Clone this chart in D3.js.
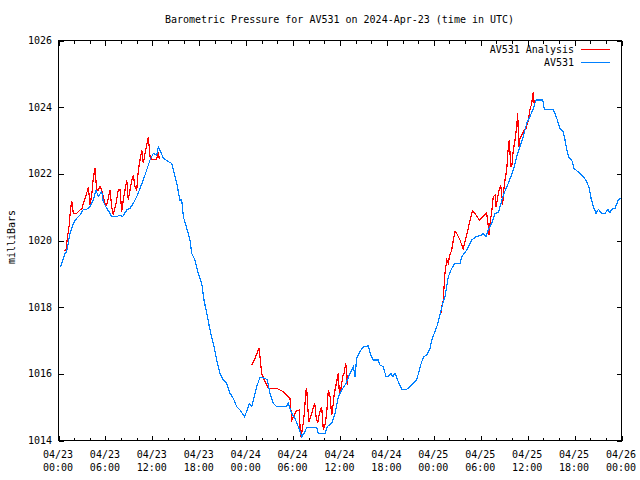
<!DOCTYPE html>
<html><head><meta charset="utf-8">
<script src="https://cdn.jsdelivr.net/npm/d3@7"></script>
<style>
html,body{margin:0;padding:0;background:#fff;}
text{font-family:"DejaVu Sans Mono",monospace;font-size:10px;fill:#000;}
</style></head>
<body><svg id="c" width="640" height="480"></svg>
<script>
// Hours since 2024-04-23 00:00 UTC
const obsHours = [0.35,0.9,1.11,1.53,1.96,2.39,2.81,3.24,3.67,4.09,4.51,4.86,5.15,5.59,5.79,6.23,6.65,6.87,7.51,7.93,8.27,8.79,9.21,9.63,10.07,10.49,10.91,11.34,11.77,12.19,12.62,12.83,13.13,13.47,14.11,14.54,14.75,15.18,15.6,15.82,16.03,16.46,16.88,17.1,17.52,17.94,18.38,18.67,19.02,19.44,19.86,20.3,20.72,21.14,21.58,22.0,22.42,22.85,23.28,23.83,24.13,24.47,24.77,24.98,25.41,25.83,26.47,26.77,27.11,27.54,27.97,29.16,29.45,29.89,30.31,30.73,31.17,31.59,31.81,33.09,33.29,34.15,34.44,35.0,35.43,35.85,36.28,36.83,37.34,37.77,37.98,38.2,38.62,39.05,39.68,39.99,40.32,40.96,41.18,41.6,41.95,42.24,42.55,42.81,43.1,43.52,43.96,44.6,45.02,45.44,45.87,46.21,46.51,46.81,47.15,47.58,47.79,48.21,48.51,48.85,49.28,49.49,49.92,50.35,50.77,51.41,51.63,52.27,52.91,53.46,54.19,54.39,54.74,55.03,55.47,55.89,56.31,56.53,56.95,57.59,58.23,58.66,59.09,59.51,59.94,60.36,60.79,61.13,61.99,62.19,63.27,63.56,63.86,64.2,64.62,64.84,65.06,65.39,65.7,65.99,66.34,66.76,67.18,67.62,67.95,68.17,68.46,68.81,69.1,69.54,69.96,70.3,70.6,70.81,71.23,71.66,71.96];
const obsValues = [1019.2,1019.6,1019.65,1020.2,1020.5,1020.65,1020.75,1020.92,1020.92,1021.0,1021.2,1021.5,1021.3,1021.45,1021.15,1020.95,1020.8,1020.7,1020.7,1020.75,1020.7,1020.9,1020.95,1021.1,1021.3,1021.55,1021.8,1022.1,1022.4,1022.6,1022.55,1022.8,1022.65,1022.45,1022.35,1022.3,1022.1,1021.7,1021.2,1021.2,1020.7,1020.35,1020.0,1019.6,1019.4,1019.0,1018.7,1018.2,1017.8,1017.3,1016.9,1016.4,1016.0,1015.8,1015.7,1015.4,1015.25,1015.0,1014.9,1014.7,1014.85,1015.1,1015.0,1015.2,1015.6,1015.88,1015.85,1015.8,1015.4,1015.1,1015.0,1015.0,1015.1,1014.8,1014.65,1014.4,1014.1,1014.25,1014.38,1014.38,1014.2,1014.2,1014.4,1014.5,1014.8,1015.3,1015.5,1015.7,1016.0,1016.2,1015.9,1016.45,1016.65,1016.8,1016.82,1016.55,1016.4,1016.4,1016.25,1016.2,1015.9,1015.9,1016.0,1015.9,1016.0,1015.75,1015.52,1015.52,1015.6,1015.7,1015.8,1016.1,1016.35,1016.5,1016.55,1016.75,1017.0,1017.25,1017.45,1017.75,1018.15,1018.3,1018.9,1019.15,1019.3,1019.3,1019.5,1019.7,1020.0,1020.1,1020.15,1020.2,1020.1,1020.3,1020.5,1020.8,1020.82,1021.0,1021.35,1021.7,1022.1,1022.5,1022.8,1023.1,1023.5,1023.7,1023.95,1024.2,1024.2,1023.92,1023.92,1023.8,1023.6,1023.35,1023.25,1023.0,1022.7,1022.45,1022.4,1022.15,1022.08,1022.0,1021.9,1021.75,1021.55,1021.25,1021.0,1020.8,1020.92,1020.8,1020.8,1020.92,1020.82,1020.92,1020.95,1021.2,1021.25];

// Analysis series (null = gap between analysis windows)
const anaHours = [0.77,1.02,1.19,1.41,1.53,1.75,1.96,2.39,2.81,3.03,3.24,3.67,3.88,4.09,4.31,4.51,4.73,4.95,5.15,5.37,5.59,6.01,6.23,6.65,6.87,7.07,7.42,7.71,7.93,8.15,8.35,8.57,8.79,8.99,9.21,9.43,9.63,9.85,10.07,10.27,10.49,10.71,10.91,11.13,11.34,11.55,11.77,11.98,12.62,12.83,12.96,
  null,
  24.77,25.19,25.71,25.92,26.05,26.47,26.9,27.97,28.39,28.81,29.25,29.67,29.89,30.1,30.31,30.53,30.86,30.95,31.08,31.3,31.5,31.72,31.81,31.93,32.1,32.32,32.57,32.83,33.0,33.21,33.42,33.72,33.93,34.15,34.36,34.57,34.79,35.0,35.13,35.34,35.64,35.85,35.98,36.19,36.41,36.58,36.79,36.92,37.0,
  null,
  48.94,49.07,49.28,49.37,49.49,49.71,49.92,50.05,50.35,50.56,50.77,50.99,51.41,51.63,51.84,51.93,52.27,52.7,52.99,53.46,53.88,54.39,54.82,55.03,55.12,55.25,55.47,55.67,55.89,56.02,56.18,56.4,56.62,56.78,56.87,56.95,57.17,57.38,57.59,57.72,57.9,58.03,58.23,58.45,58.66,58.79,58.92,59.09,59.3,59.51,59.86,60.15,60.36,60.58,60.79,60.92];
const anaValues = [1019.68,1019.7,1020.05,1020.4,1020.75,1021.18,1020.8,1020.8,1020.9,1020.92,1021.1,1021.4,1021.6,1021.05,1021.35,1021.85,1022.15,1021.5,1021.5,1021.6,1021.5,1021.1,1021.05,1021.5,1021.0,1020.75,1021.1,1021.5,1021.5,1020.85,1021.2,1021.5,1021.8,1021.2,1021.5,1021.8,1021.95,1021.6,1021.5,1022.1,1022.4,1022.7,1022.3,1022.6,1022.85,1023.1,1022.5,1022.42,1022.42,1022.65,1022.42,
  null,
  1016.25,1016.45,1016.75,1016.3,1016.0,1015.75,1015.55,1015.55,1015.5,1015.45,1015.35,1015.25,1014.6,1014.7,1014.8,1014.88,1014.9,1014.4,1014.1,1014.4,1014.8,1015.5,1015.55,1015.0,1014.55,1014.7,1014.9,1015.1,1014.7,1014.5,1014.8,1015.0,1014.3,1014.45,1014.8,1015.5,1015.3,1014.75,1014.95,1015.4,1015.75,1016.0,1015.4,1015.55,1015.9,1016.0,1016.3,1016.1,1015.65,
  null,
  1017.75,1018.0,1018.2,1018.6,1019.0,1019.4,1019.3,1019.5,1019.7,1020.0,1020.25,1020.2,1020.0,1019.85,1019.7,1019.85,1020.15,1020.6,1020.88,1020.75,1020.6,1020.72,1020.82,1020.4,1020.15,1020.5,1020.85,1021.3,1021.35,1021.0,1021.2,1021.5,1021.65,1021.3,1021.05,1021.4,1021.8,1022.1,1022.8,1023.0,1022.2,1022.2,1022.7,1023.0,1023.4,1023.8,1022.8,1023.05,1023.15,1023.25,1023.35,1023.6,1023.9,1024.1,1024.45,1024.0];

const yTicks = [1014,1016,1018,1020,1022,1024,1026];
const titleText = "Barometric Pressure for AV531 on 2024-Apr-23 (time in UTC)";
const yLabel = "milliBars";
const seriesNames = ["AV531 Analysis","AV531"];
const seriesColors = ["#ff0000","#0080ff"];

const base = Date.UTC(2024,3,23,0,0);
const toDate = h => new Date(base + h*3600000);

const L=58, R=621, T=40, B=440;
const svg = d3.select("#c");
const x = d3.scaleUtc().domain([toDate(0), toDate(72)]).range([L, R]);
const y = d3.scaleLinear().domain([1014,1026]).range([B, T]);

// frame
svg.append("rect").attr("x",L+0.5).attr("y",T+0.5).attr("width",R-L).attr("height",B-T)
  .attr("fill","none").attr("stroke","#000").attr("stroke-width",1).attr("shape-rendering","crispEdges");

function styleAxis(g){
  g.select(".domain").remove();
  g.selectAll("line").attr("stroke","#000").attr("shape-rendering","crispEdges");
  g.selectAll("text").remove();
}
const minorT = d3.utcHour.every(2), majorT = d3.utcHour.every(6);
svg.append("g").attr("transform",`translate(0.5,${B+0.5})`).call(d3.axisBottom(x).ticks(minorT).tickSize(-3).tickFormat("")).call(styleAxis);
svg.append("g").attr("transform",`translate(0.5,${B+0.5})`).call(d3.axisBottom(x).ticks(majorT).tickSize(-5).tickFormat("")).call(styleAxis);
svg.append("g").attr("transform",`translate(0.5,${T+0.5})`).call(d3.axisTop(x).ticks(minorT).tickSize(-3).tickFormat("")).call(styleAxis);
svg.append("g").attr("transform",`translate(0.5,${T+0.5})`).call(d3.axisTop(x).ticks(majorT).tickSize(-5).tickFormat("")).call(styleAxis);
svg.append("g").attr("transform",`translate(${L+0.5},0.5)`).call(d3.axisLeft(y).tickValues(yTicks).tickSize(-5).tickFormat("")).call(styleAxis);
svg.append("g").attr("transform",`translate(${R+0.5},0.5)`).call(d3.axisRight(y).tickValues(yTicks).tickSize(-5).tickFormat("")).call(styleAxis);

// x labels
const fmtD = d3.utcFormat("%m/%d"), fmtH = d3.utcFormat("%H:%M");
const xt = x.ticks(majorT);
const xl = svg.append("g");
xt.forEach(d=>{
  const t = xl.append("text").attr("text-anchor","middle");
  t.append("tspan").attr("x",x(d)).attr("y",458).text(fmtD(d));
  t.append("tspan").attr("x",x(d)).attr("y",471).text(fmtH(d));
});
// y labels
svg.append("g").selectAll("text").data(yTicks).join("text")
  .attr("x",52).attr("y",d=>y(d)+4).attr("text-anchor","end").text(d=>d);

// title
svg.append("text").attr("x",(L+R)/2).attr("y",23).attr("text-anchor","middle").text(titleText);
svg.append("text").attr("transform","translate(15,237) rotate(-90)").attr("text-anchor","middle").text(yLabel);

// lines
const obs = obsHours.map((h,i)=>({t:toDate(h), v:obsValues[i]}));
const ana = anaHours.map((h,i)=>({t:h==null?null:toDate(h), v:anaValues[i]}));
const line = d3.line().defined(d=>d.t!=null && d.v!=null).x(d=>x(d.t)).y(d=>y(d.v));
svg.append("path").datum(ana).attr("d",line).attr("fill","none").attr("stroke",seriesColors[0]).attr("stroke-width",1.2).attr("shape-rendering","crispEdges");
svg.append("path").datum(obs).attr("d",line).attr("fill","none").attr("stroke",seriesColors[1]).attr("stroke-width",1.2).attr("shape-rendering","crispEdges");

// legend
const lg = svg.append("g");
seriesNames.forEach((n,i)=>{
  const yy = 49 + i*13;
  lg.append("text").attr("x",574).attr("y",yy+3.5).attr("text-anchor","end").text(n);
  lg.append("line").attr("x1",581).attr("x2",610).attr("y1",yy+0.5).attr("y2",yy+0.5)
    .attr("stroke",seriesColors[i]).attr("stroke-width",1).attr("shape-rendering","crispEdges");
});
</script></body></html>
